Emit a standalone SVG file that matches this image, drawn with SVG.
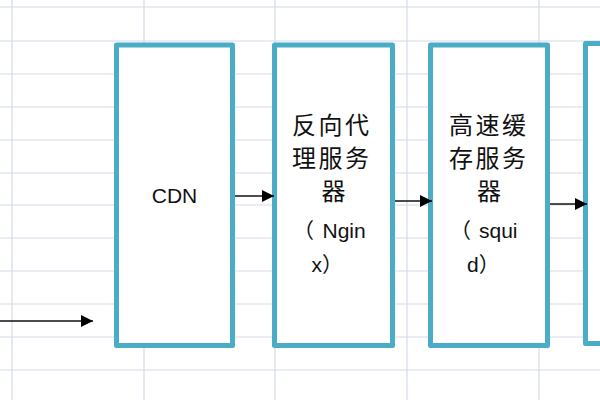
<svg xmlns="http://www.w3.org/2000/svg" width="600" height="400" viewBox="0 0 600 400">
  <style>
    .grid line { stroke: #D4DAE8; stroke-width: 1.2; }
    .box { fill: #FFFFFF; stroke: #4BACC6; stroke-width: 5; stroke-linejoin: round; }
    .conn { stroke: #111111; stroke-width: 1.6; fill: none; marker-end: url(#ah); }
    .cjk { font-family: "Noto Sans CJK SC", "Liberation Sans", sans-serif; font-size: 24px; letter-spacing: 2.5px; fill: #111111; dominant-baseline: central; }
    .lat { font-family: "Liberation Sans", "Noto Sans CJK SC", sans-serif; font-size: 21px; fill: #111111; }
  </style>
  <defs>
    <marker id="ah" markerUnits="userSpaceOnUse" markerWidth="14" markerHeight="14" refX="12" refY="6" orient="auto">
      <path d="M0,0 L12,6 L0,12 Z" fill="#000000"/>
    </marker>
  </defs>
  <rect x="0" y="0" width="600" height="400" fill="#FFFFFF"/>
  <g class="grid">
    <line x1="12" y1="0" x2="12" y2="400"/>
    <line x1="144" y1="0" x2="144" y2="400"/>
    <line x1="275" y1="0" x2="275" y2="400"/>
    <line x1="407" y1="0" x2="407" y2="400"/>
    <line x1="539" y1="0" x2="539" y2="400"/>
    <line x1="0" y1="7" x2="600" y2="7"/>
    <line x1="0" y1="41" x2="600" y2="41"/>
    <line x1="0" y1="74" x2="600" y2="74"/>
    <line x1="0" y1="107" x2="600" y2="107"/>
    <line x1="0" y1="140" x2="600" y2="140"/>
    <line x1="0" y1="173" x2="600" y2="173"/>
    <line x1="0" y1="205" x2="600" y2="205"/>
    <line x1="0" y1="238" x2="600" y2="238"/>
    <line x1="0" y1="271" x2="600" y2="271"/>
    <line x1="0" y1="304" x2="600" y2="304"/>
    <line x1="0" y1="337" x2="600" y2="337"/>
    <line x1="0" y1="370" x2="600" y2="370"/>
  </g>
  <g id="cdn">
    <rect class="box" x="116.5" y="45" width="116" height="300.5"/>
    <text class="lat" x="174.5" y="203" text-anchor="middle">CDN</text>
  </g>
  <g id="nginx">
    <rect class="box" x="274.5" y="45" width="118" height="300.5"/>
    <text class="cjk" x="292" y="123">反向代</text>
    <text class="cjk" x="292" y="156">理服务</text>
    <text class="cjk" x="321.5" y="189">器</text>
    <text class="lat" x="293" y="238">（<tspan x="322.5">Ngin</tspan></text>
    <text class="lat" x="311.5" y="272">x）</text>
  </g>
  <g id="squid">
    <rect class="box" x="430.5" y="45" width="117" height="300.5"/>
    <text class="cjk" x="449" y="123">高速缓</text>
    <text class="cjk" x="449" y="156">存服务</text>
    <text class="cjk" x="477" y="189">器</text>
    <text class="lat" x="450" y="238">（<tspan x="479">squi</tspan></text>
    <text class="lat" x="467" y="272">d）</text>
  </g>
  <g id="next">
    <rect class="box" x="585.5" y="43.5" width="40" height="300"/>
  </g>
  <g id="connectors">
    <line class="conn" x1="0" y1="321" x2="93" y2="321"/>
    <line class="conn" x1="235" y1="196" x2="274" y2="196"/>
    <line class="conn" x1="395" y1="201" x2="432" y2="201"/>
    <line class="conn" x1="550" y1="204" x2="587" y2="204"/>
  </g>
</svg>
